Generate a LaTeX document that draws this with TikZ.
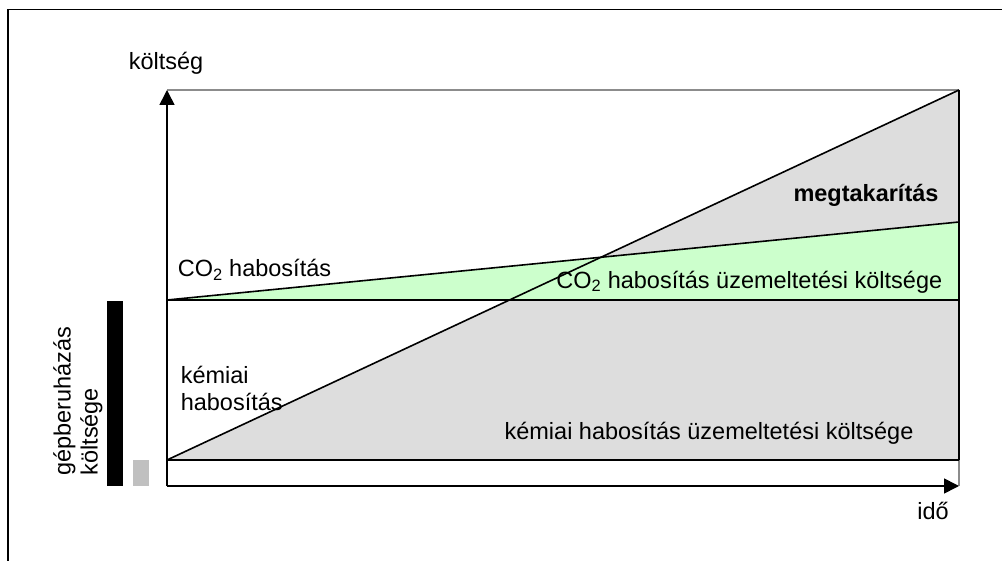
\documentclass[tikz,border=0pt]{standalone}
\usepackage{fontspec}
\setmainfont{Liberation Sans}
\usetikzlibrary{arrows.meta}
\definecolor{areagray}{HTML}{DDDDDD}
\definecolor{areagreen}{HTML}{CCFFCC}
\definecolor{bargray}{HTML}{C0C0C0}
\definecolor{linegray}{HTML}{8C8C8C}
\begin{document}
\begin{tikzpicture}[x=1pt,y=-1pt,line width=1.6pt,
  lbl/.style={font=\fontsize{23.5}{27}\selectfont,inner sep=0pt},
  axisline/.style={-{Triangle[length=15pt,width=15pt]},line width=1.6pt},
  greyline/.style={linegray,line width=1.6pt}]
\useasboundingbox (0,0) rectangle (1002,561);
% frame
\coordinate (fbl) at (8,561);
\coordinate (ftl) at (8,9.5);
\coordinate (ftr) at (1002,9.5);
\draw (fbl) -- (ftl) -- (ftr);
% key points
\coordinate (O) at (167,486);
\coordinate (Ytop) at (167,90);
\coordinate (Xend) at (959,486);
\coordinate (TR) at (959,90);
\coordinate (ChemL) at (167,460);
\coordinate (ChemR) at (959,460);
\coordinate (CoL) at (167,300);
\coordinate (CoR) at (959,222);
\coordinate (CoBase) at (959,300);
% fills
\fill[areagray] (ChemL) -- (TR) -- (ChemR) -- cycle;
\fill[areagreen] (CoL) -- (CoR) -- (CoBase) -- cycle;
% grey lines
\draw[greyline] (Ytop) -- (TR);
\draw[greyline] (ChemR) -- (Xend);
% black lines
\draw (ChemL) -- (TR);
\draw (CoL) -- (CoR);
\draw (CoL) -- (CoBase);
\draw (ChemL) -- (ChemR);
\draw (TR) -- (ChemR);
% axes
\draw[axisline] (O) -- (Ytop);
\draw[axisline] (O) -- (Xend);
% bars
\fill[black] (107,301) rectangle (123,486);
\fill[bargray] (133,460) rectangle (149,486);
% labels
\node[lbl] (ylab) at (166,63) {költség};
\node[lbl] (xlab) at (933,511) {idő};
\node[lbl,anchor=west] (co2) at (177,270) {CO\textsubscript{2} habosítás};
\node[lbl,font=\fontsize{23.5}{27}\selectfont\bfseries] (megt) at (866,195) {megtakarítás};
\node[lbl,anchor=east] (co2cost) at (943,282) {CO\textsubscript{2} habosítás üzemeltetési költsége};
\node[lbl,anchor=north west,align=left] (chem) at (180,365) {kémiai\\habosítás};
\node[lbl] (chemcost) at (709,433) {kémiai habosítás üzemeltetési költsége};
\node[lbl,rotate=90,align=left] (invest) at (78,401) {gépberuházás\\költsége};
\end{tikzpicture}
\end{document}
